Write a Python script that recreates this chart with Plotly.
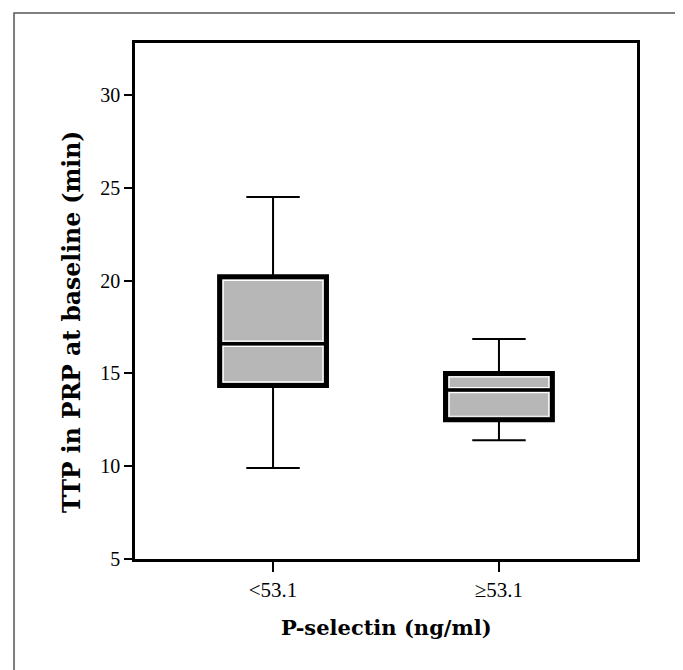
import plotly.graph_objects as go

categories = ["<53.1", "≥53.1"]
lower_whisker = [9.9, 11.4]
q1 = [14.35, 12.5]
median = [16.6, 14.1]
q3 = [20.2, 15.0]
upper_whisker = [24.5, 16.85]

y_ticks = [5, 10, 15, 20, 25, 30]
x_title = "P-selectin (ng/ml)"
y_title = "TTP in PRP at baseline (min)"

BOX_W = 0.473
HW = BOX_W / 2
FILL = "#b7b7b7"
FONT = "Liberation Serif"
TFONT = "DejaVu Serif"

fig = go.Figure()
fig.add_trace(go.Box(
    x=categories,
    q1=q1, median=median, q3=q3,
    lowerfence=lower_whisker, upperfence=upper_whisker,
    width=BOX_W, whiskerwidth=0.5,
    fillcolor=FILL,
    line=dict(color="black", width=2),
    boxpoints=False,
    hoverinfo="skip",
    showlegend=False,
))

shapes = []
dx_in = 0.016
dy_in = 0.19
dmed = 0.14
for i in range(len(categories)):
    shapes.append(dict(type="rect", xref="x", yref="y", layer="above",
                       x0=i - HW, x1=i + HW, y0=q1[i], y1=q3[i],
                       fillcolor=FILL, line=dict(color="black", width=5)))
    shapes.append(dict(type="rect", xref="x", yref="y", layer="above",
                       x0=i - HW + dx_in, x1=i + HW - dx_in,
                       y0=q1[i] + dy_in, y1=q3[i] - dy_in,
                       fillcolor="rgba(0,0,0,0)", line=dict(color="white", width=1.2)))
    for s in (-1, 1):
        shapes.append(dict(type="line", xref="x", yref="y", layer="above",
                           x0=i - HW + dx_in, x1=i + HW - dx_in,
                           y0=median[i] + s * dmed, y1=median[i] + s * dmed,
                           line=dict(color="white", width=1.2)))
    shapes.append(dict(type="line", xref="x", yref="y", layer="above",
                       x0=i - HW, x1=i + HW, y0=median[i], y1=median[i],
                       line=dict(color="black", width=3.5)))

# outer figure frame
shapes.append(dict(type="rect", xref="paper", yref="paper", layer="above",
                   x0=-0.241, x1=1.0787, y0=-0.3, y1=1.058,
                   fillcolor="rgba(0,0,0,0)", line=dict(color="#555555", width=1.5)))

annotations = [
    dict(text=x_title, xref="paper", yref="paper", x=0.501, y=-0.132,
         xanchor="center", yanchor="middle", showarrow=False,
         font=dict(family=TFONT, size=21, color="black", weight="bold")),
    dict(text=y_title, xref="paper", yref="paper", x=-0.1255, y=0.461,
         xanchor="center", yanchor="middle", showarrow=False, textangle=-90,
         font=dict(family=TFONT, size=23.5, color="black", weight="bold")),
]

fig.update_layout(
    width=675, height=662,
    margin=dict(l=127, r=46, t=35, b=111),
    paper_bgcolor="white", plot_bgcolor="white",
    shapes=shapes,
    annotations=annotations,
    font=dict(family=FONT, color="black"),
    xaxis=dict(
        type="category",
        range=[-0.611, 1.611],
        showline=True, linecolor="black", linewidth=2.5, mirror=True,
        ticks="outside", ticklen=10, tickwidth=2, tickcolor="black",
        showgrid=False, zeroline=False,
        tickfont=dict(family=FONT, size=21, color="black"),
    ),
    yaxis=dict(
        range=[5, 32.8],
        tickvals=y_ticks,
        showline=True, linecolor="black", linewidth=2.5, mirror=True,
        ticks="outside", ticklen=8, tickwidth=2, tickcolor="black",
        showgrid=False, zeroline=False,
        tickfont=dict(family=FONT, size=20, color="black"),
    ),
)

fig.write_html("out.html")
